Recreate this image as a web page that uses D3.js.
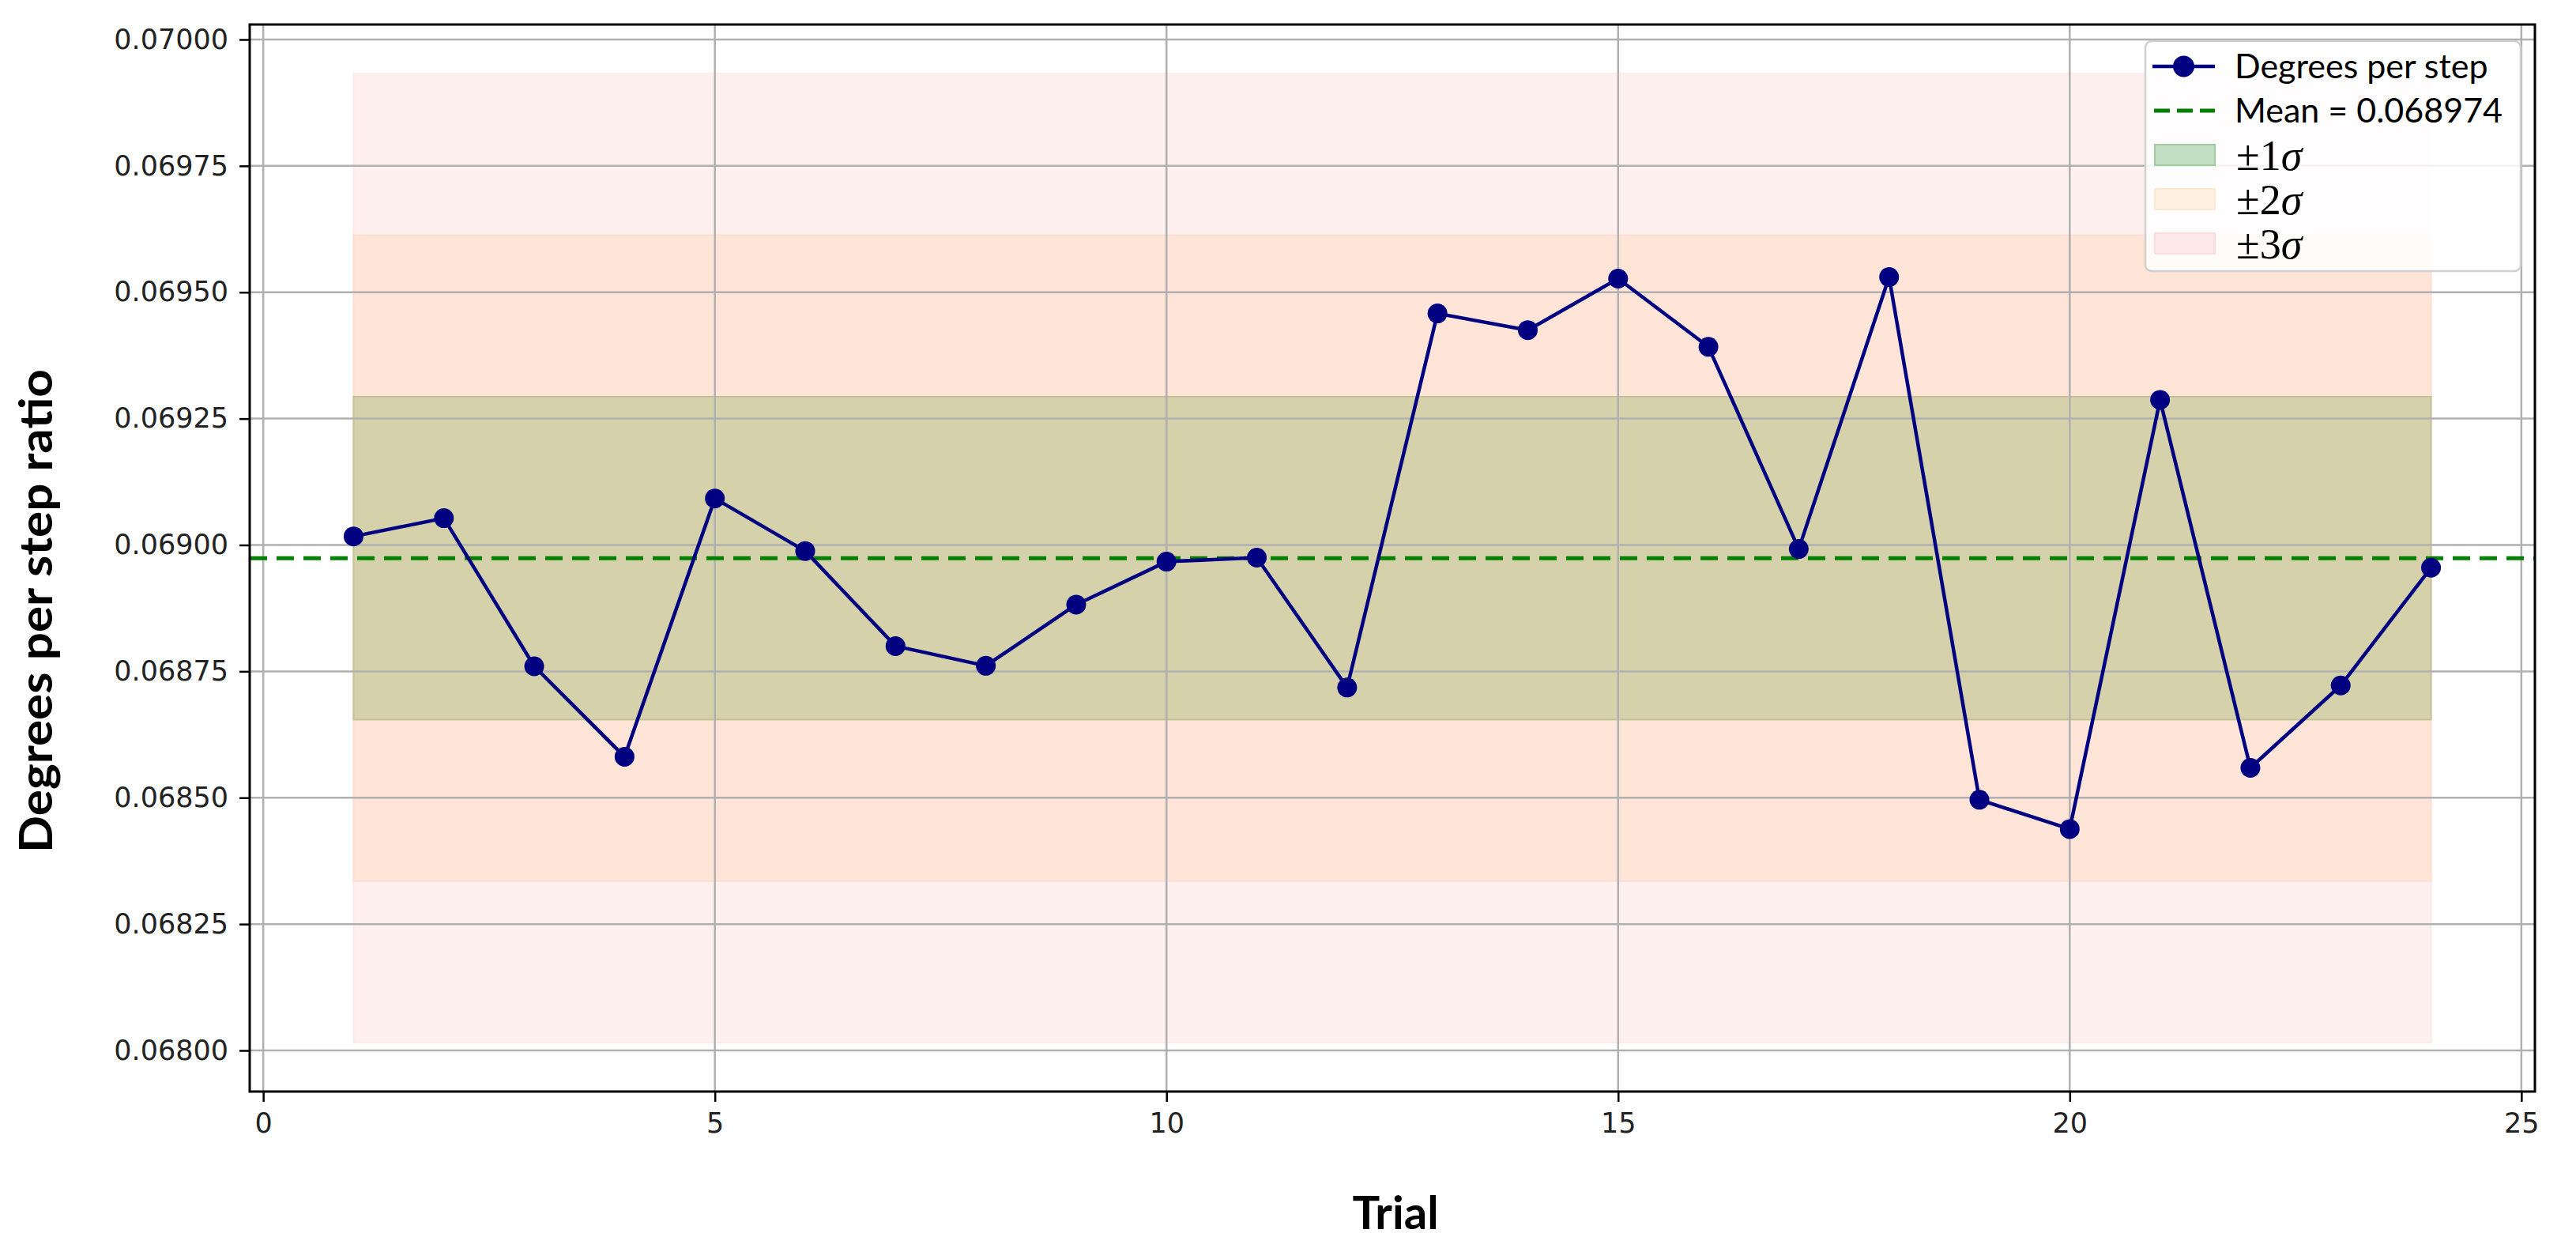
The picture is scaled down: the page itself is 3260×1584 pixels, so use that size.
<!DOCTYPE html>
<html>
<head>
<meta charset="utf-8">
<script src="https://cdn.jsdelivr.net/npm/d3@7/dist/d3.min.js"></script>
<style>
  html, body { margin: 0; padding: 0; background: #ffffff; }
  svg { display: block; }
</style>
</head>
<body>
<svg id="chart" width="3260" height="1584"></svg>
<script>
// ---- Data ----
const trials = [1, 2, 3, 4, 5, 6, 7, 8, 9, 10, 11, 12, 13, 14, 15, 16, 17, 18, 19, 20, 21, 22, 23, 24];
const degreesPerStep = [
  0.069017, 0.069053, 0.068760, 0.068581, 0.069092, 0.068988, 0.068800, 0.068761,
  0.068882, 0.068967, 0.068975, 0.068718, 0.069458, 0.069425, 0.069527, 0.069392,
  0.068992, 0.069530, 0.068496, 0.068438, 0.069287, 0.068559, 0.068722, 0.068955
];
const xTicks = [0, 5, 10, 15, 20, 25];
const yTicks = [0.06800, 0.06825, 0.06850, 0.06875, 0.06900, 0.06925, 0.06950, 0.06975, 0.07000];
const xLimits = [-0.15, 25.15];
const yLimits = [0.0679187, 0.0700297];
const sigmaLevels = [3, 2, 1];
const legendLabels = ["Degrees per step", "Mean = ", "±1", "±2", "±3"];

// ---- Stats ----
const mean = d3.mean(degreesPerStep);
const sigma = Math.sqrt(d3.mean(degreesPerStep, v => (v - mean) * (v - mean)));

// ---- Layout ----
const svg = d3.select("#chart");
const plot = { left: 316, right: 3208, top: 31, bottom: 1381 };

const x = d3.scaleLinear().domain(xLimits).range([plot.left, plot.right]);
const y = d3.scaleLinear().domain(yLimits).range([plot.bottom, plot.top]);

const bandFill = { 3: "#fff0f0", 2: "#ffe4d8", 1: "#d4d1ab" };
const bandEdge = { 3: "#fdeaea", 2: "#fde0d2", 1: "#c5c29a" };

// Bands
const xMin = d3.min(trials), xMax = d3.max(trials);
svg.append("g").selectAll("rect")
  .data(sigmaLevels)
  .join("rect")
  .attr("x", x(xMin))
  .attr("width", x(xMax) - x(xMin))
  .attr("y", k => y(mean + k * sigma))
  .attr("height", k => y(mean - k * sigma) - y(mean + k * sigma))
  .attr("fill", k => bandFill[k])
  .attr("stroke", k => bandEdge[k])
  .attr("stroke-width", 2);

// Grid
const grid = svg.append("g").attr("stroke", "#b0b0b0").attr("stroke-width", 2.5);
grid.selectAll("line.gx").data(xTicks).join("line")
  .attr("class", "gx")
  .attr("x1", d => x(d)).attr("x2", d => x(d))
  .attr("y1", plot.top).attr("y2", plot.bottom);
grid.selectAll("line.gy").data(yTicks).join("line")
  .attr("class", "gy")
  .attr("x1", plot.left).attr("x2", plot.right)
  .attr("y1", d => y(d)).attr("y2", d => y(d));

// Mean line
svg.append("line")
  .attr("x1", plot.left).attr("x2", plot.right)
  .attr("y1", y(mean)).attr("y2", y(mean))
  .attr("stroke", "#008000")
  .attr("stroke-width", 5)
  .attr("stroke-dasharray", "22 12");

// Data line
const pts = trials.map((t, i) => [t, degreesPerStep[i]]);
svg.append("path")
  .datum(pts)
  .attr("fill", "none")
  .attr("stroke", "#000080")
  .attr("stroke-width", 4.5)
  .attr("stroke-linejoin", "round")
  .attr("d", d3.line().x(d => x(d[0])).y(d => y(d[1])));

svg.append("g").selectAll("circle")
  .data(pts)
  .join("circle")
  .attr("cx", d => x(d[0]))
  .attr("cy", d => y(d[1]))
  .attr("r", 12.5)
  .attr("fill", "#000080");

// Axes
const xAxis = d3.axisBottom(x).tickValues(xTicks).tickFormat(d3.format("d")).tickSize(13).tickPadding(14);
const yAxis = d3.axisLeft(y).tickValues(yTicks).tickFormat(d3.format(".5f")).tickSize(13).tickPadding(14);

const gx = svg.append("g").attr("transform", `translate(0,${plot.bottom})`).call(xAxis);
const gy = svg.append("g").attr("transform", `translate(${plot.left},0)`).call(yAxis);
[gx, gy].forEach(g => {
  g.select(".domain").remove();
  g.selectAll(".tick line").attr("stroke", "#000").attr("stroke-width", 2.5);
  g.selectAll(".tick text")
    .attr("fill", "#222")
    .style("font-family", "'DejaVu Sans', sans-serif")
    .style("font-size", "35px");
});

// Frame
svg.append("rect")
  .attr("x", plot.left).attr("y", plot.top)
  .attr("width", plot.right - plot.left).attr("height", plot.bottom - plot.top)
  .attr("fill", "none").attr("stroke", "#000").attr("stroke-width", 3);

// Axis titles
svg.append("text")
  .attr("x", (plot.left + plot.right) / 2 + 4)
  .attr("y", 1555)
  .attr("text-anchor", "middle")
  .style("font-family", "Lato, 'Open Sans', sans-serif")
  .style("font-weight", "bold")
  .style("font-size", "58px")
  .text("Trial");

svg.append("text")
  .attr("transform", "translate(66,773) rotate(-90)")
  .attr("text-anchor", "middle")
  .style("font-family", "Lato, 'Open Sans', sans-serif")
  .style("font-weight", "bold")
  .style("font-size", "58px")
  .attr("textLength", 612)
  .attr("lengthAdjust", "spacingAndGlyphs")
  .text("Degrees per step ratio");

// Legend
const lg = svg.append("g");
lg.append("rect")
  .attr("x", 2715).attr("y", 52).attr("width", 475).attr("height", 291)
  .attr("rx", 8)
  .attr("fill", "#ffffff").attr("fill-opacity", 0.85)
  .attr("stroke", "#d0d0d0").attr("stroke-width", 2.5);

const rowY = i => 84 + i * 56;
const hx0 = 2724, hx1 = 2803, tx = 2828;

// row 0: line + marker
lg.append("line").attr("x1", hx0).attr("x2", hx1).attr("y1", rowY(0)).attr("y2", rowY(0))
  .attr("stroke", "#000080").attr("stroke-width", 4.5);
lg.append("circle").attr("cx", (hx0 + hx1) / 2).attr("cy", rowY(0)).attr("r", 13.5).attr("fill", "#000080");
// row 1: dashed
lg.append("line").attr("x1", hx0 + 2).attr("x2", hx1).attr("y1", rowY(1)).attr("y2", rowY(1))
  .attr("stroke", "#008000").attr("stroke-width", 5).attr("stroke-dasharray", "20 9");
// rows 2-4: patches
const patchFill = { 1: "#c3dfc3", 2: "#fff2e0", 3: "#fde8e8" };
const patchEdge = { 1: "#9fcc9f", 2: "#fde9d3", 3: "#fbdede" };
[1, 2, 3].forEach((k, j) => {
  lg.append("rect")
    .attr("x", hx0 + 3).attr("y", rowY(j + 2) - 13).attr("width", hx1 - hx0 - 3).attr("height", 26)
    .attr("fill", patchFill[k]).attr("stroke", patchEdge[k]).attr("stroke-width", 2);
});

const legendFont = "Lato, 'Open Sans', sans-serif";
lg.append("text").attr("x", tx).attr("y", rowY(0)).attr("dy", "0.35em")
  .style("font-family", legendFont).style("font-size", "43px").text(legendLabels[0]);
lg.append("text").attr("x", tx).attr("y", rowY(1)).attr("dy", "0.35em")
  .style("font-family", legendFont).style("font-size", "43px")
  .text(legendLabels[1] + mean.toFixed(6));
[2, 3, 4].forEach(i => {
  const t = lg.append("text").attr("x", tx + 2).attr("y", rowY(i)).attr("dy", "0.35em")
    .style("font-family", "'Liberation Serif', 'DejaVu Serif', serif").style("font-size", "54px");
  t.append("tspan").text(legendLabels[i]);
  t.append("tspan").style("font-style", "italic").text("σ");
});
</script>
</body>
</html>
